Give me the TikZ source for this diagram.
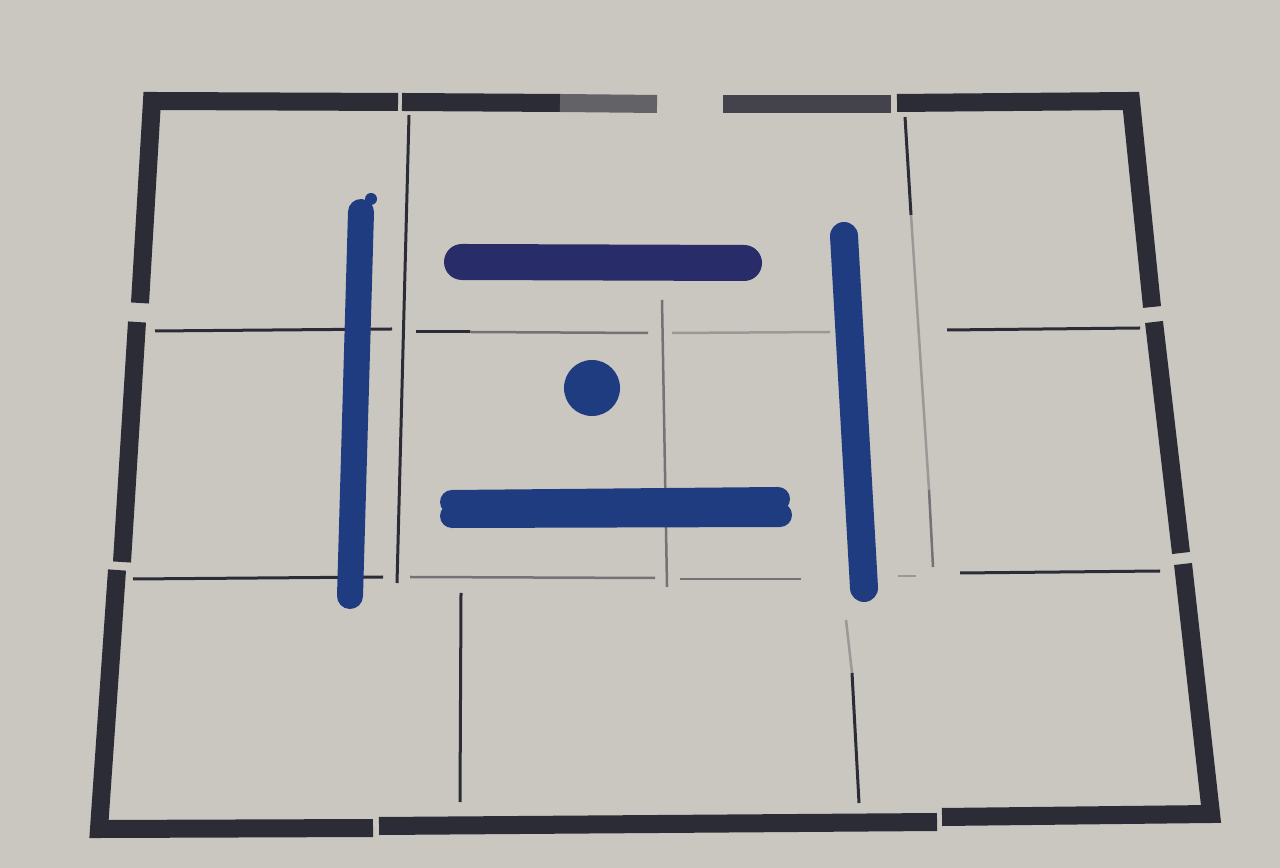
\documentclass[tikz,border=0pt]{standalone}
\usepackage{tikz}
\usepackage{xcolor}
\definecolor{paperGray}{RGB}{202,199,192}
\definecolor{inkDark}{RGB}{44,44,54}
\definecolor{penBlue}{RGB}{32,60,128}
\definecolor{penNavy}{RGB}{40,44,104}

\begin{document}
\begin{tikzpicture}[x=0.01cm, y=-0.01cm,
    frame/.style={inkDark, line width=0.18cm, line join=miter},
    thinline/.style={inkDark, line width=0.03cm},
    faint/.style={inkDark!55!paperGray, line width=0.025cm},
    pen/.style={penBlue, line width=0.26cm, line cap=round}]
                    \fill[paperGray] (0,0) rectangle (1280,868);
                    \useasboundingbox (0,0) rectangle (1280,868);

                    % outer frame
                    \draw[frame] (140,303) -- (152,101) -- (398,102);
                    \draw[frame] (402,102) -- (560,103);
                    \draw[frame, inkDark!65!paperGray] (560,103) -- (657,104);
                    \draw[frame, inkDark!85!paperGray] (723,104) -- (891,104);
                    \draw[frame] (897,103) -- (1131,101) -- (1152,307);
                    \draw[frame] (1154,322) -- (1181,553);
                    \draw[frame] (1183,564) -- (1211,814) -- (942,817);
                    \draw[frame] (937,822) -- (379,826);
                    \draw[frame] (373,828) -- (99,829) -- (117,570);
                    \draw[frame] (137,322) -- (122,562);

                    % grid lines
                    \draw[thinline] (155,331) -- (392,329);
                    \draw[thinline] (416,332) -- (470,332);
                    \draw[faint] (470,332) -- (648,333);
                    \draw[faint, inkDark!30!paperGray] (672,333) -- (830,332);
                    \draw[thinline] (947,330) -- (1140,328);
                    \draw[thinline] (133,579) -- (383,577);
                    \draw[faint] (410,577) -- (655,578);
                    \draw[faint] (680,579) -- (801,579);
                    \draw[faint, inkDark!30!paperGray] (898,576) -- (916,576);
                    \draw[thinline] (960,573) -- (1160,571);

                    \draw[thinline] (409,115) -- (397,583);
                    \draw[faint] (662,300) -- (667,587);
                    \draw[thinline] (905,117) -- (911,215);
                    \draw[faint, inkDark!30!paperGray] (911,215) -- (929,490);
                    \draw[faint] (929,490) -- (933,567);
                    \draw[thinline] (461,593) -- (460,802);
                    \draw[faint, inkDark!30!paperGray] (846,620) -- (852,673);
                    \draw[thinline] (852,673) -- (859,803);

                    % blue marks
                    \draw[pen] (361,212) -- (350,596);
                    \fill[penBlue] (371,199) circle[radius=0.06cm];
                    \draw[pen, penNavy, line width=0.36cm] (462,262) -- (744,263);
                    \fill[penBlue] (592,388) circle[radius=0.28cm];
                    \draw[pen, line width=0.24cm] (452,502) -- (778,499);
                    \draw[pen, line width=0.24cm] (452,516) -- (780,515);
                    \draw[pen, line width=0.28cm] (844,236) -- (864,588);
                \end{tikzpicture}
\end{document}
